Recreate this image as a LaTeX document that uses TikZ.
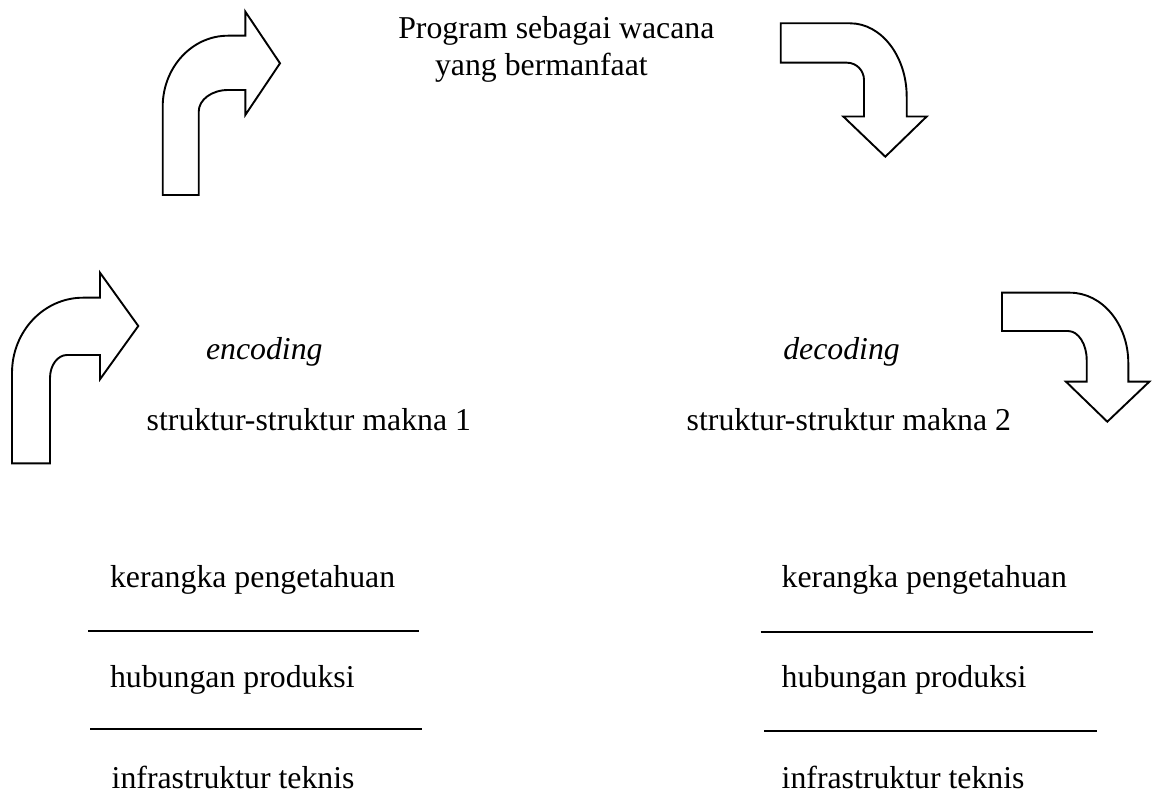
\documentclass[tikz,border=0pt]{standalone}
\usepackage{fontspec}
\setmainfont{Liberation Serif}
\begin{document}
\begin{tikzpicture}[x=1pt,y=-1pt,
  lbl/.style={anchor=base west,inner sep=0pt,outer sep=0pt,font=\fontsize{31.8}{36.6}\selectfont},
  bentarrow/.style={draw=black,line width=1.9pt,fill=white,line join=miter},
  sep/.style={draw=black,line width=2.2pt}]
\useasboundingbox (0,0) rectangle (1152,794);
% arrows
\path[bentarrow] (162.7,195) -- (162.7,106.7) .. controls (162.7,67.5) and (191.9,35.7) .. (228,35.7) -- (245.3,35.7) -- (245.3,11.6) -- (280,63.3) -- (245.3,115) -- (245.3,90) -- (228,90) .. controls (211.8,90) and (198.7,99.7) .. (198.7,111.7) -- (198.7,195) -- cycle;
\path[bentarrow] (780.7,23.3) -- (850,23.3) .. controls (881.3,23.3) and (906.7,56.2) .. (906.7,96.7) -- (906.7,116.5) -- (926.7,116.5) -- (885.3,156.7) -- (843.3,116.5) -- (864,116.5) -- (864,80) .. controls (864,70.4) and (856.4,62.7) .. (847,62.7) -- (780.7,62.7) -- cycle;
\path[bentarrow] (12,463.3) -- (12,373) .. controls (12,331.4) and (43.8,297.7) .. (83,297.7) -- (100,297.7) -- (100,272.7) -- (138.3,326) -- (100,379.3) -- (100,355) -- (67,355) .. controls (57.6,355) and (50,365.3) .. (50,378) -- (50,463.3) -- cycle;
\path[bentarrow] (1002,292.7) -- (1070,292.7) .. controls (1102.2,292.7) and (1128.3,324.2) .. (1128.3,363) -- (1128.3,381.7) -- (1149.3,381.7) -- (1107.3,421.7) -- (1066,381.7) -- (1086.7,381.7) -- (1086.7,360) .. controls (1086.7,344) and (1078.3,331) .. (1068,331) -- (1002,331) -- cycle;
% texts
\node[lbl] (t1) at (398.3,38.3) {Program sebagai wacana};
\node[lbl] (t2) at (435,75.7) {yang bermanfaat};
\node[lbl] (enc) at (206,360) {\itshape encoding};
\node[lbl] (dec) at (783.3,360) {\itshape decoding};
\node[lbl] (s1) at (146.7,430) {struktur-struktur makna 1};
\node[lbl] (s2) at (686.7,430) {struktur-struktur makna 2};
\node[lbl] (k1) at (110,587) {kerangka pengetahuan};
\node[lbl] (h1) at (110,687.7) {hubungan produksi};
\node[lbl] (i1) at (111.7,788.3) {infrastruktur teknis};
\node[lbl] (k2) at (781.7,587.3) {kerangka pengetahuan};
\node[lbl] (h2) at (781.7,687.3) {hubungan produksi};
\node[lbl] (i2) at (781.7,788.3) {infrastruktur teknis};
% separator lines
\coordinate (la1) at (88,631);
\coordinate (lb1) at (419.3,631);
\coordinate (la2) at (90,729);
\coordinate (lb2) at (421.7,729);
\coordinate (ra1) at (760.7,631.7);
\coordinate (rb1) at (1092.7,631.7);
\coordinate (ra2) at (764,731);
\coordinate (rb2) at (1097.3,731);
\draw[sep] (la1) -- (lb1);
\draw[sep] (la2) -- (lb2);
\draw[sep] (ra1) -- (rb1);
\draw[sep] (ra2) -- (rb2);
\end{tikzpicture}
\end{document}
